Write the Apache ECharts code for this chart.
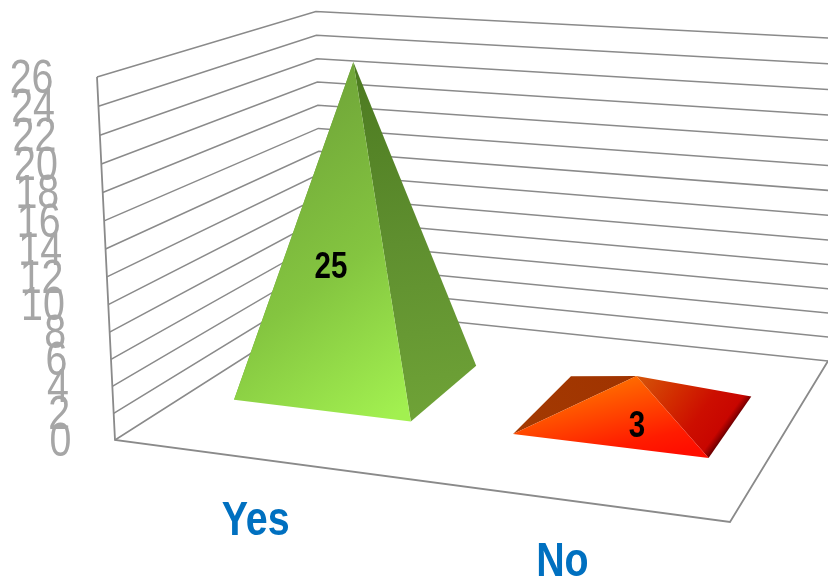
<!DOCTYPE html>
<html>
<head>
<meta charset="utf-8">
<style>html,body{margin:0;padding:0;background:#fff}#c{width:828px;height:580px}</style>
<script src="https://cdn.jsdelivr.net/npm/echarts@6/dist/echarts.min.js"></script>
</head>
<body>
<div id="c"></div>
<script>
const categories = ['Yes', 'No'];
const seriesValues = [25, 3];
const valueTicks = [0, 2, 4, 6, 8, 10, 12, 14, 16, 18, 20, 22, 24, 26];

/* Perspective camera: front-left floor corner, and where the three axes end */
const A = [115, 440], C = [730, 522], B = [322, 308], D = [97, 77];
const WX = -0.1027, WZ = 0.2353, WY = -0.0478;
const mk = (P, w) => [P[0] * (1 + w) - A[0], P[1] * (1 + w) - A[1]];
const VX = mk(C, WX), VZ = mk(B, WZ), VY = mk(D, WY);
function project(x, z, y) {
  const d = 1 + WX * x + WZ * z + WY * y;
  return [
    (A[0] + VX[0] * x + VZ[0] * z + VY[0] * y) / d,
    (A[1] + VX[1] * x + VZ[1] * z + VY[1] * y) / d
  ];
}
const GRID = { left: A[0], width: C[0] - A[0], top: D[1], height: A[1] - D[1] };
const toX = px => (px - GRID.left) / GRID.width;
const toY = py => (GRID.top + GRID.height - py) / GRID.height;

const FONT = '"Liberation Sans", Arial, sans-serif';
const NARROW_SCALE = 0.82;
const LG = (x, y, x2, y2, stops) => ({
  type: 'linear', x, y, x2, y2,
  colorStops: stops.map(s => ({ offset: s[0], color: s[1] }))
});
const faceFill = [
  {
    left: '#6d9f36',
    right: LG(0.3, 0, 0.7, 1, [[0, '#4c7a20'], [0.5, '#5f8f2f'], [1, '#6fa337']]),
    front: LG(-0.1, 0.2, 1, 0.95, [[0, '#6ea238'], [0.55, '#84c540'], [1, '#a2f050']])
  },
  {
    left: LG(0, 1, 1, 0, [[0, '#a33a02'], [1, '#a03300']]),
    right: LG(0, 0, 0.744, 0.754, [[0, '#d4560a'], [0.4, '#d22c00'], [0.7, '#cc0e00'], [0.93, '#c80600'], [0.98, '#900000'], [1, '#700000']]),
    front: LG(0.636, 0, 0.74, 1, [[0, '#ff6a00'], [0.35, '#ff4600'], [0.75, '#ff1c00'], [1, '#ff0e00']])
  }
];
const labelNudge = [[-25, 43], [1, 32]];
const lineGray = '#8a8a8a';

function line(points, width) {
  return {
    type: 'polyline',
    shape: { points },
    style: { stroke: lineGray, lineWidth: width, fill: null }
  };
}
function label(text, x, y, size, weight, color, align) {
  return {
    type: 'text', x, y, scaleX: NARROW_SCALE, scaleY: 1,
    style: {
      text, x: 0, y: 0, fill: color, fontFamily: FONT, fontSize: size, fontWeight: weight,
      align, verticalAlign: 'middle'
    }
  };
}

function renderWall(params, api) {
  const v = api.value(1);
  const y = toY(api.coord([0, v])[1]);
  const front = project(0, 0, y);
  const kids = [
    line([front, project(0, 1, y), project(1, 1, y)], 1.5),
    label(String(v), front[0] - 43.5, front[1] + 2.5, 48, 'normal', '#a6a6a6', 'right')
  ];
  if (v === valueTicks[0]) {
    const top = toY(api.coord([0, valueTicks[valueTicks.length - 1]])[1]);
    kids.push(line([project(0, 0, top), front, project(1, 0, y), project(1, 1, y)], 1.8));
  }
  return { type: 'group', children: kids };
}

function renderPyramid(params, api) {
  const i = api.value(0), v = api.value(1);
  const c = api.coord([i, v]);
  const cx = toX(c[0]), h = toY(c[1]);
  const hw = 0.3225 * api.size([1, 0])[0] / GRID.width;
  const z0 = 0.303, z1 = 0.697;
  const FL = project(cx - hw, z0, 0), FR = project(cx + hw, z0, 0);
  const BL = project(cx - hw, z1, 0), BR = project(cx + hw, z1, 0);
  const T = project(cx, 0.5, h);
  const fill = faceFill[i];
  const poly = (pts, f) => ({ type: 'polygon', shape: { points: pts }, style: { fill: f } });
  const anchor = project(cx, 0.5, h / 2);
  const catPos = project(cx, 0, 0);
  return {
    type: 'group',
    children: [
      poly([FL, BL, T], fill.left),
      poly([FR, BR, T], fill.right),
      poly([FL, FR, T], fill.front),
      label(String(v), anchor[0] + labelNudge[i][0], anchor[1] + labelNudge[i][1], 36, 'bold', '#000', 'center'),
      label(categories[i], catPos[0] - 1, catPos[1] + 63, 48, 'bold', '#0070c0', 'center')
    ]
  };
}

const chart = echarts.init(document.getElementById('c'), null, { renderer: 'canvas' });
chart.setOption({
  animation: false,
  backgroundColor: '#ffffff',
  grid: { left: GRID.left, top: GRID.top, width: GRID.width, height: GRID.height },
  xAxis: { type: 'category', data: categories, show: false },
  yAxis: {
    type: 'value',
    min: valueTicks[0],
    max: valueTicks[valueTicks.length - 1],
    interval: 2,
    show: false
  },
  series: [
    {
      type: 'custom', name: 'Gridlines', renderItem: renderWall, silent: true, clip: false, z: 1,
      encode: { x: 0, y: 1 },
      data: valueTicks.map(v => [0, v])
    },
    {
      type: 'custom', name: 'Answers', renderItem: renderPyramid, silent: true, clip: false, z: 2,
      encode: { x: 0, y: 1 },
      data: seriesValues.map((v, i) => [i, v])
    }
  ]
});
</script>
</body>
</html>
